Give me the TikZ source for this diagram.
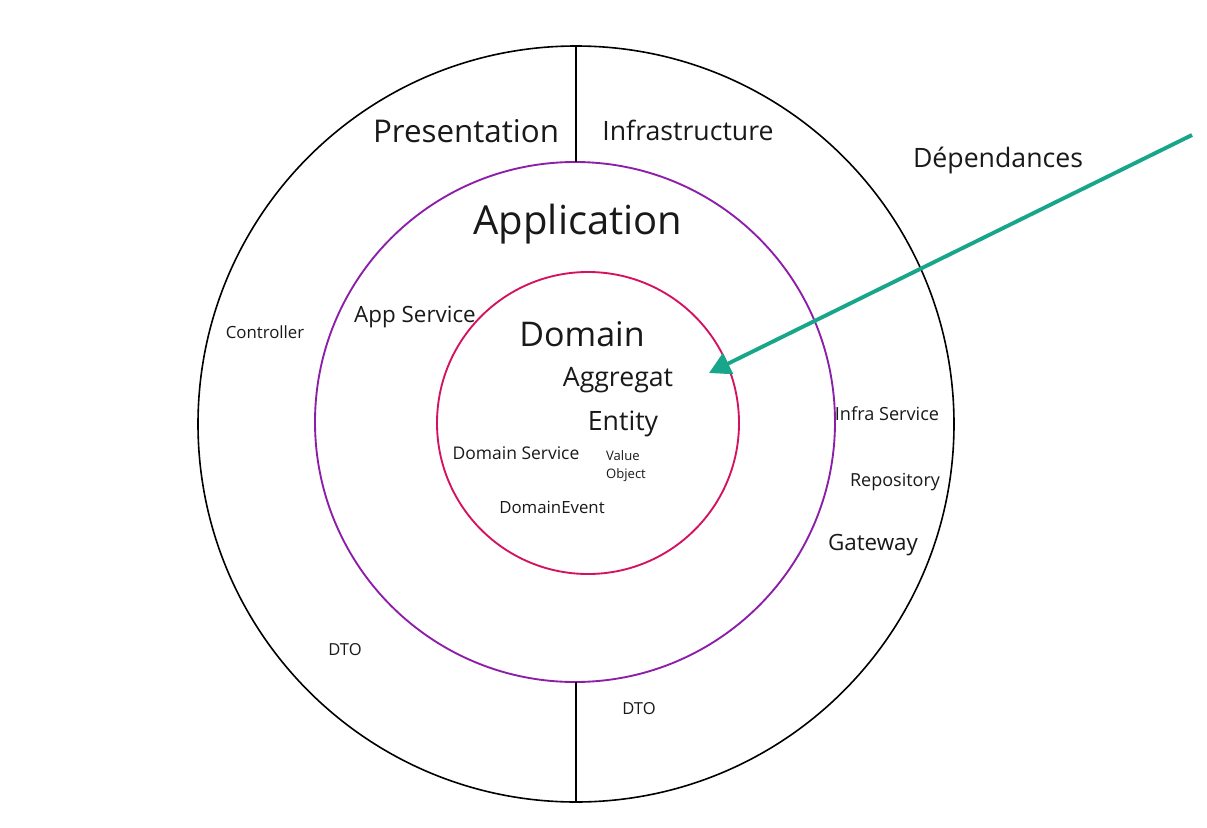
\documentclass[tikz,border=0pt]{standalone}
\usepackage{fontspec}
\setmainfont{Open Sans}
\usetikzlibrary{arrows.meta}
\definecolor{purp}{RGB}{140,30,170}
\definecolor{crim}{RGB}{212,18,96}
\definecolor{teal2}{RGB}{24,166,138}
\tikzset{
  lbl/.style={inner sep=0pt, text=black!90},
  fs/.style={font=\fontsize{#1}{#1}\selectfont}
}
\begin{document}
\begin{tikzpicture}[x=0.75pt,y=-0.75pt]
\useasboundingbox (0,0) rectangle (1207,828);
\fill[white] (0,0) rectangle (1207,828);
% circles
\node[circle, draw=black, line width=1.2pt, minimum size=756*0.75pt, inner sep=0pt] (outer) at (576,424) {};
\node[circle, draw=purp, line width=1.4pt, minimum size=520*0.75pt, inner sep=0pt] (mid) at (575,422) {};
\node[circle, draw=crim, line width=1.4pt, minimum size=302*0.75pt, inner sep=0pt] (inner) at (588,423) {};
% separators
\coordinate (t1) at (576,46);
\coordinate (t2) at (576,162);
\coordinate (b1) at (576,682);
\coordinate (b2) at (576,802);
\draw[line width=1.3pt] (t1) -- (t2);
\draw[line width=1.3pt] (b1) -- (b2);
% labels
\node[lbl, fs=23.5] (pres) at (466,131) {Presentation};
\node[lbl, fs=20] (infra) at (688,130) {Infrastructure};
\node[lbl, fs=20] (dep) at (998,160) {Dépendances};
\node[lbl, fs=30] (app) at (578,224) {Application};
\node[lbl, fs=16.8] (appsvc) at (415,317) {App Service};
\node[lbl, fs=12.6] (ctrl) at (265,332) {Controller};
\node[lbl, fs=25.5] (dom) at (582,334) {Domain};
\node[lbl, fs=20] (agg) at (618,380) {Aggregat};
\node[lbl, fs=20] (ent) at (623,424) {Entity};
\node[lbl, fs=13.1] (domsvc) at (516,453) {Domain Service};
\node[lbl, fs=9.8, align=left] (vo) at (626,466) {Value\\[4pt]Object};
\node[lbl, fs=12.6] (devt) at (552,507) {DomainEvent};
\node[lbl, fs=13.6] (infrasvc) at (887,414) {Infra Service};
\node[lbl, fs=13.5] (repo) at (895,482) {Repository};
\node[lbl, fs=16.8] (gw) at (873,545) {Gateway};
\node[lbl, fs=12.4] (dto1) at (345,650) {DTO};
\node[lbl, fs=12.4] (dto2) at (639,709) {DTO};
% arrow
\coordinate (as) at (1192,135);
\coordinate (ae) at (709,373);
\draw[teal2, line width=2.9pt, -{Triangle[length=16pt,width=17pt]}] (as) -- (ae);
\end{tikzpicture}
\end{document}
